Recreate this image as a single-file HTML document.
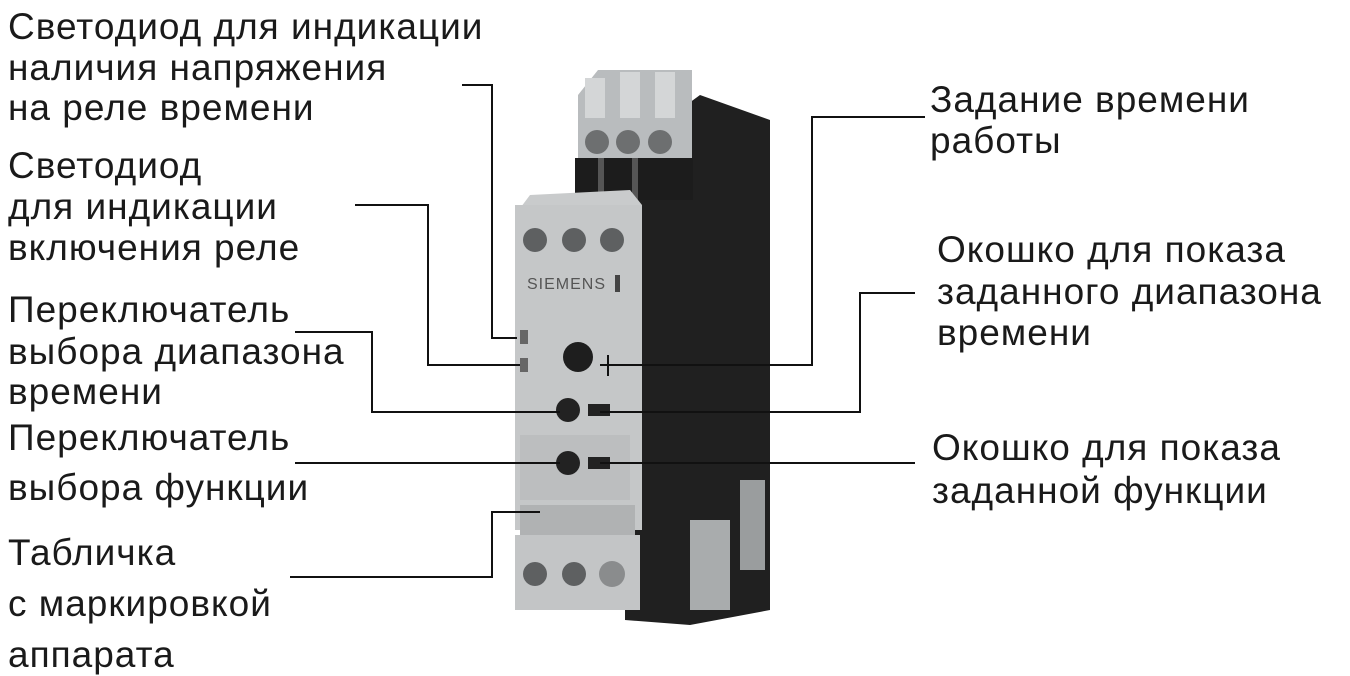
<!DOCTYPE html>
<html><head><meta charset="utf-8"><style>
html,body{margin:0;padding:0;background:#fff;}
svg{display:block;}
text{font-family:"Liberation Sans",Arial,sans-serif;font-size:37px;letter-spacing:1px;fill:#1a1a1a;}
</style></head><body>
<svg width="1350" height="676" viewBox="0 0 1350 676" xmlns="http://www.w3.org/2000/svg">
<!-- dark body -->
<polygon points="625,150 700,95 770,120 770,610 690,625 625,620" fill="#202020"/>
<rect x="740" y="480" width="25" height="90" fill="#9a9d9e"/>
<rect x="690" y="520" width="40" height="90" fill="#a9acad"/>
<!-- upper terminal block -->
<polygon points="578,95 598,70 692,70 692,160 578,160" fill="#b9bcbe"/>
<rect x="585" y="78" width="20" height="40" fill="#d4d6d7"/>
<rect x="620" y="72" width="20" height="46" fill="#d4d6d7"/>
<rect x="655" y="72" width="20" height="46" fill="#d4d6d7"/>
<rect x="575" y="158" width="118" height="42" fill="#1c1c1c"/>
<rect x="598" y="158" width="6" height="42" fill="#555"/>
<rect x="632" y="158" width="6" height="42" fill="#555"/>
<circle cx="597" cy="142" r="12" fill="#6d6f70"/><circle cx="628" cy="142" r="12" fill="#6d6f70"/><circle cx="660" cy="142" r="12" fill="#6d6f70"/>
<!-- front face -->
<polygon points="515,215 530,195 630,190 642,205 642,530 515,530" fill="#c9cbcc"/>
<rect x="515" y="205" width="127" height="325" fill="#c5c7c8"/>
<circle cx="535" cy="240" r="12" fill="#5e6061"/><circle cx="574" cy="240" r="12" fill="#5e6061"/><circle cx="612" cy="240" r="12" fill="#5e6061"/>
<text x="527" y="289" style="font-size:16px;fill:#555;letter-spacing:1px">SIEMENS</text>
<rect x="615" y="275" width="5" height="17" fill="#444"/>
<rect x="520" y="330" width="8" height="14" fill="#666"/>
<rect x="520" y="358" width="8" height="14" fill="#666"/>
<circle cx="578" cy="357" r="15" fill="#1e1e1e"/>
<circle cx="568" cy="410" r="12" fill="#222"/>
<rect x="588" y="404" width="22" height="12" fill="#222"/>
<rect x="520" y="435" width="110" height="65" fill="#bcbebf"/>
<circle cx="568" cy="463" r="12" fill="#222"/>
<rect x="588" y="457" width="22" height="12" fill="#222"/>
<rect x="520" y="505" width="115" height="30" fill="#b0b2b3"/>
<!-- bottom terminals -->
<rect x="515" y="535" width="125" height="75" fill="#c3c5c6"/>
<circle cx="535" cy="574" r="12" fill="#5e6061"/><circle cx="574" cy="574" r="12" fill="#5e6061"/><circle cx="612" cy="574" r="13" fill="#8a8c8d"/>
<!-- leader lines -->
<g stroke="#111" stroke-width="2" fill="none">
<polyline points="462,85 492,85 492,338 517,338"/>
<polyline points="355,205 428,205 428,365 520,365"/>
<polyline points="295,332 372,332 372,412 560,412"/>
<polyline points="600,412 860,412 860,293 915,293"/>
<polyline points="295,463 560,463"/>
<polyline points="600,463 915,463"/>
<polyline points="925,117 812,117 812,365 600,365"/>
<line x1="608" y1="355" x2="608" y2="376"/>
<polyline points="290,577 492,577 492,512 540,512"/>
</g>
<!-- labels left -->
<text x="8" y="39">Светодиод для индикации</text>
<text x="8" y="80">наличия напряжения</text>
<text x="8" y="120">на реле времени</text>
<text x="8" y="178">Светодиод</text>
<text x="8" y="219">для индикации</text>
<text x="8" y="260">включения реле</text>
<text x="8" y="322">Переключатель</text>
<text x="8" y="364">выбора диапазона</text>
<text x="8" y="404">времени</text>
<text x="8" y="450">Переключатель</text>
<text x="8" y="500">выбора функции</text>
<text x="8" y="565">Табличка</text>
<text x="8" y="616">с маркировкой</text>
<text x="8" y="667">аппарата</text>
<!-- labels right -->
<text x="930" y="112">Задание времени</text>
<text x="930" y="153">работы</text>
<text x="937" y="262">Окошко для показа</text>
<text x="937" y="304">заданного диапазона</text>
<text x="937" y="345">времени</text>
<text x="932" y="460">Окошко для показа</text>
<text x="932" y="503">заданной функции</text>
</svg>
</body></html>
